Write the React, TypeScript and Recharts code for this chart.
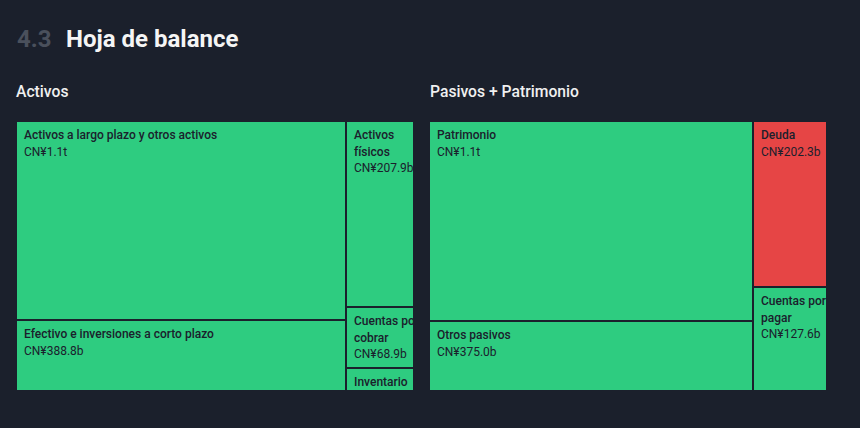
import { Treemap } from 'recharts'

// Activos (CN¥ miles de millones)
const assetNames = [
  'Activos a largo plazo y otros activos',
  'Efectivo e inversiones a corto plazo',
  'Activos físicos',
  'Cuentas por cobrar',
  'Inventario',
]
const assetValues = [1080, 388.8, 207.9, 68.9, 25]

// Pasivos + Patrimonio
const liabilityNames = ['Patrimonio', 'Otros pasivos', 'Deuda', 'Cuentas por pagar']
const liabilityValues = [1065.7, 375.0, 202.3, 127.6]

const BG = '#1b202c'
const GREEN = '#2ecc80'
const RED = '#e64545'
const LABEL = '#1b202c'
const redCells = ['Deuda']

// squarify ratio that gives the column layout of the original
const RATIO = 2.042

const toRows = (names: string[], values: number[]) =>
  names.map((name, i) => ({ name, value: values[i] }))

const formatCny = (v: number) =>
  v >= 1000 ? `CN¥${(v / 1000).toFixed(1)}t` : `CN¥${v.toFixed(1)}b`

const wrapLabel = (text: string, width: number) => {
  const lines: string[] = []
  let cur = ''
  for (const w of text.split(' ')) {
    const next = cur ? cur + ' ' + w : w
    if (cur && next.length * 6 > width) {
      lines.push(cur)
      cur = w
    } else cur = next
  }
  if (cur) lines.push(cur)
  return lines
}

function Cell(props: any) {
  const { x, y, width, height, depth, name, value, index, prefix } = props
  if (depth !== 1) return <g />
  const id = `${prefix}-clip-${index}`
  const lines = wrapLabel(name, width)
  const fill = redCells.includes(name) ? RED : GREEN
  return (
    <g>
      <defs>
        <clipPath id={id}>
          <rect x={x} y={y} width={Math.max(width - 1, 0)} height={Math.max(height - 1, 0)} />
        </clipPath>
      </defs>
      <rect x={x} y={y} width={width} height={height} fill={fill} stroke={BG} strokeWidth={2} />
      <g clipPath={`url(#${id})`} fill={LABEL} fontSize={12}>
        {lines.map((l, i) => (
          <text key={i} x={x + 8} y={y + 18 + i * 16.5} fontWeight={500}>
            {l}
          </text>
        ))}
        <text x={x + 8} y={y + 18 + lines.length * 16.5}>
          {formatCny(value)}
        </text>
      </g>
    </g>
  )
}

export default function App() {
  return (
    <div
      style={{
        position: 'absolute',
        left: 0,
        top: 0,
        width: 860,
        height: 428,
        background: BG,
        fontFamily: 'Roboto, sans-serif',
        overflow: 'hidden',
      }}
    >
      <svg width={860} height={110} style={{ position: 'absolute', left: 0, top: 0 }} fontFamily="Roboto, sans-serif">
        <text x={17} y={47} fontSize={24} fontWeight={700} fill="#4a505c">4.3</text>
        <text x={66} y={47} fontSize={24} fontWeight={700} fill="#f5f5f5">Hoja de balance</text>
        <text x={16} y={97} fontSize={15.7} fontWeight={500} fill="#f0f0f0">Activos</text>
        <text x={430} y={97} fontSize={15.7} fontWeight={500} fill="#f0f0f0">Pasivos + Patrimonio</text>
      </svg>
      <div style={{ position: 'absolute', left: 16, top: 121 }}>
        <Treemap
          width={398}
          height={270}
          data={toRows(assetNames, assetValues)}
          dataKey="value"
          nameKey="name"
          aspectRatio={RATIO}
          isAnimationActive={false}
          content={(p: any) => <Cell {...p} prefix="act" />}
        />
      </div>
      <div style={{ position: 'absolute', left: 429, top: 121 }}>
        <Treemap
          width={398}
          height={270}
          data={toRows(liabilityNames, liabilityValues)}
          dataKey="value"
          nameKey="name"
          aspectRatio={RATIO}
          isAnimationActive={false}
          content={(p: any) => <Cell {...p} prefix="pas" />}
        />
      </div>
    </div>
  )
}
